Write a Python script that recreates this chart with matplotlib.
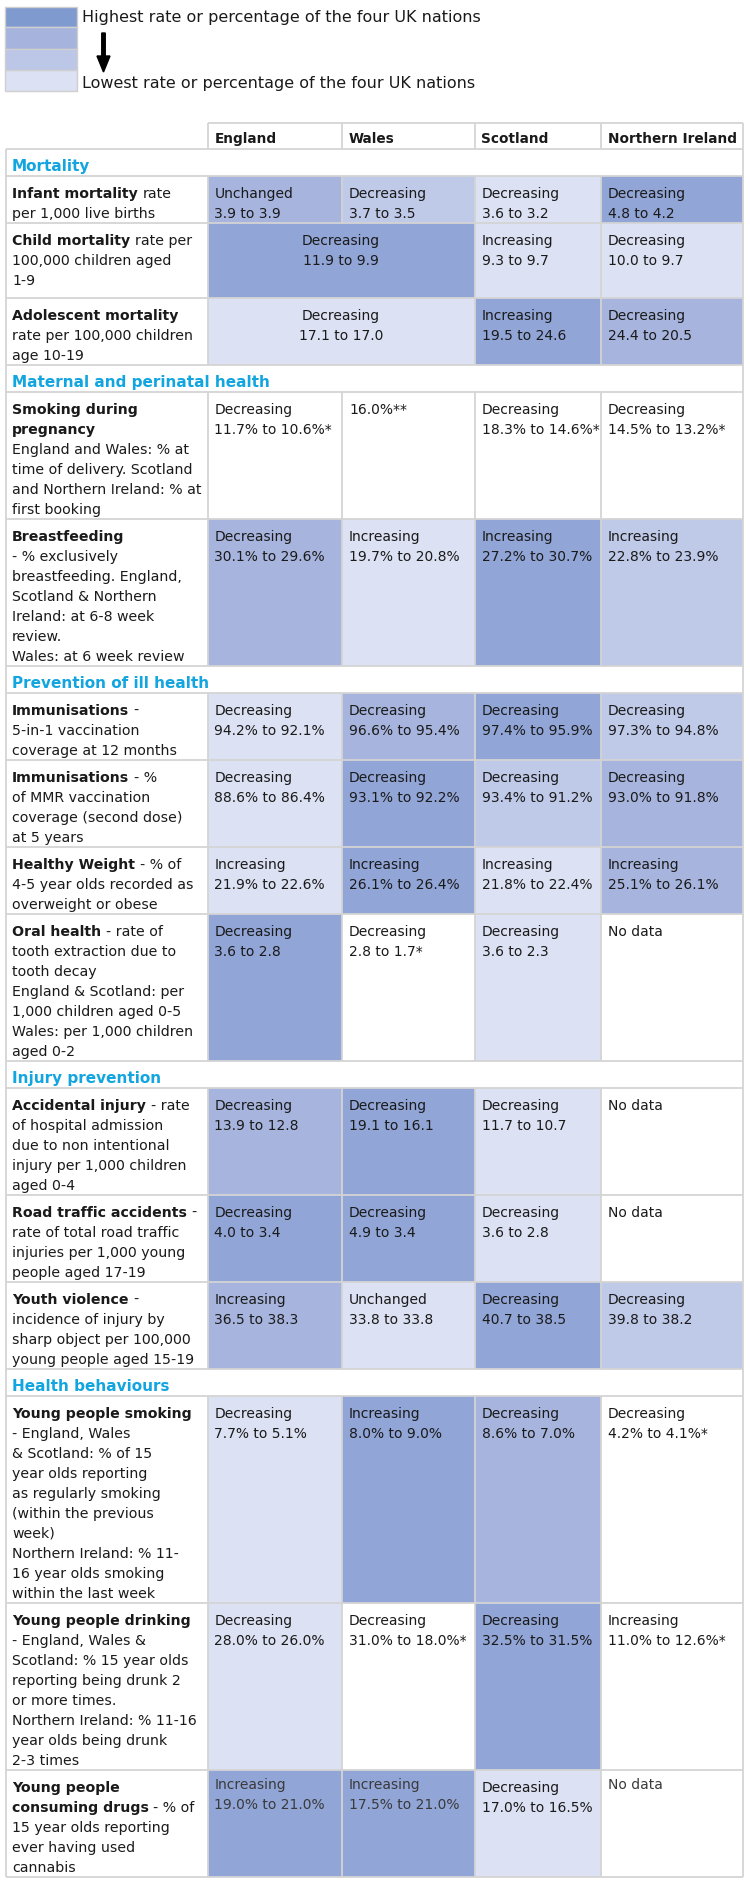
import matplotlib
matplotlib.use("Agg")
import matplotlib.pyplot as plt
from matplotlib.patches import Rectangle

# ---- data ----
nations = ["England", "Wales", "Scotland", "Northern Ireland"]

section_names = ["Mortality", "Maternal and perinatal health", "Prevention of ill health",
                 "Injury prevention", "Health behaviours"]
section_sizes = [3, 2, 4, 3, 3]

row_labels = [
    ["**Infant mortality** rate", "per 1,000 live births"],
    ["**Child mortality** rate per", "100,000 children aged", "1-9"],
    ["**Adolescent mortality**", "rate per 100,000 children", "age 10-19"],
    ["**Smoking during**", "**pregnancy**", "England and Wales: % at", "time of delivery. Scotland",
     "and Northern Ireland: % at", "first booking"],
    ["**Breastfeeding**", "- % exclusively", "breastfeeding. England,", "Scotland & Northern",
     "Ireland: at 6-8 week", "review.", "Wales: at 6 week review"],
    ["**Immunisations** -", "5-in-1 vaccination", "coverage at 12 months"],
    ["**Immunisations** - %", "of MMR vaccination", "coverage (second dose)", "at 5 years"],
    ["**Healthy Weight** - % of", "4-5 year olds recorded as", "overweight or obese"],
    ["**Oral health** - rate of", "tooth extraction due to", "tooth decay", "England & Scotland: per",
     "1,000 children aged 0-5", "Wales: per 1,000 children", "aged 0-2"],
    ["**Accidental injury** - rate", "of hospital admission", "due to non intentional",
     "injury per 1,000 children", "aged 0-4"],
    ["**Road traffic accidents** -", "rate of total road traffic", "injuries per 1,000 young",
     "people aged 17-19"],
    ["**Youth violence** -", "incidence of injury by", "sharp object per 100,000",
     "young people aged 15-19"],
    ["**Young people smoking**", "- England, Wales", "& Scotland: % of 15", "year olds reporting",
     "as regularly smoking", "(within the previous", "week)", "Northern Ireland: % 11-",
     "16 year olds smoking", "within the last week"],
    ["**Young people drinking**", "- England, Wales &", "Scotland: % 15 year olds",
     "reporting being drunk 2", "or more times.", "Northern Ireland: % 11-16",
     "year olds being drunk", "2-3 times"],
    ["**Young people**", "**consuming drugs** - % of", "15 year olds reporting",
     "ever having used", "cannabis"],
]

# None = merged into the cell on its left
trend = [
    ["Unchanged", "Decreasing", "Decreasing", "Decreasing"],
    ["Decreasing", None, "Increasing", "Decreasing"],
    ["Decreasing", None, "Increasing", "Decreasing"],
    ["Decreasing", "", "Decreasing", "Decreasing"],
    ["Decreasing", "Increasing", "Increasing", "Increasing"],
    ["Decreasing", "Decreasing", "Decreasing", "Decreasing"],
    ["Decreasing", "Decreasing", "Decreasing", "Decreasing"],
    ["Increasing", "Increasing", "Increasing", "Increasing"],
    ["Decreasing", "Decreasing", "Decreasing", "No data"],
    ["Decreasing", "Decreasing", "Decreasing", "No data"],
    ["Decreasing", "Decreasing", "Decreasing", "No data"],
    ["Increasing", "Unchanged", "Decreasing", "Decreasing"],
    ["Decreasing", "Increasing", "Decreasing", "Decreasing"],
    ["Decreasing", "Decreasing", "Decreasing", "Increasing"],
    ["Increasing", "Increasing", "Decreasing", "No data"],
]
change = [
    ["3.9 to 3.9", "3.7 to 3.5", "3.6 to 3.2", "4.8 to 4.2"],
    ["11.9 to 9.9", None, "9.3 to 9.7", "10.0 to 9.7"],
    ["17.1 to 17.0", None, "19.5 to 24.6", "24.4 to 20.5"],
    ["11.7% to 10.6%*", "16.0%**", "18.3% to 14.6%*", "14.5% to 13.2%*"],
    ["30.1% to 29.6%", "19.7% to 20.8%", "27.2% to 30.7%", "22.8% to 23.9%"],
    ["94.2% to 92.1%", "96.6% to 95.4%", "97.4% to 95.9%", "97.3% to 94.8%"],
    ["88.6% to 86.4%", "93.1% to 92.2%", "93.4% to 91.2%", "93.0% to 91.8%"],
    ["21.9% to 22.6%", "26.1% to 26.4%", "21.8% to 22.4%", "25.1% to 26.1%"],
    ["3.6 to 2.8", "2.8 to 1.7*", "3.6 to 2.3", ""],
    ["13.9 to 12.8", "19.1 to 16.1", "11.7 to 10.7", ""],
    ["4.0 to 3.4", "4.9 to 3.4", "3.6 to 2.8", ""],
    ["36.5 to 38.3", "33.8 to 33.8", "40.7 to 38.5", "39.8 to 38.2"],
    ["7.7% to 5.1%", "8.0% to 9.0%", "8.6% to 7.0%", "4.2% to 4.1%*"],
    ["28.0% to 26.0%", "31.0% to 18.0%*", "32.5% to 31.5%", "11.0% to 12.6%*"],
    ["19.0% to 21.0%", "17.5% to 21.0%", "17.0% to 16.5%", ""],
]
# rank shade: 1 = highest of the four nations ... 4 = lowest, 0 = not ranked
rank = [
    [2, 3, 4, 1],
    [1, 1, 4, 4],
    [4, 4, 1, 2],
    [0, 0, 0, 0],
    [2, 4, 1, 3],
    [4, 2, 1, 3],
    [4, 1, 3, 2],
    [4, 1, 4, 2],
    [1, 0, 4, 0],
    [2, 1, 4, 0],
    [1, 1, 4, 0],
    [2, 4, 1, 3],
    [4, 1, 2, 0],
    [4, 0, 1, 0],
    [1, 1, 4, 0],
]
legend_top = "Highest rate or percentage of the four UK nations"
legend_bottom = "Lowest rate or percentage of the four UK nations"

# ---- style ----
shade = {0: "white", 1: "#91a5d7", 2: "#a7b5de", 3: "#bfc9e8", 4: "#dce1f3"}
legend_shades = ["#7f9acf", "#a5b3dd", "#bcc6e7", "#dce1f3"]
grid_c = "#d4d4d4"
text_c = "#1a1a1a"
section_c = "#12a5e0"
col_edges = [5.5, 207.5, 342, 474.5, 601, 743]
line_h = 20
row_pad = 7
section_h = 27
extra_pad = {1: 8}
light_cells = {(14, 0), (14, 1), (14, 3)}

fig = plt.figure(figsize=(7.5, 19), dpi=100)
ax = fig.add_axes([0, 0, 1, 1])
ax.set_xlim(0, 750)
ax.set_ylim(1900, 0)
ax.axis("off")
renderer = fig.canvas.get_renderer()


def put_line(x, y, line, size, color=text_c):
    # draws one label line, with **bold** runs, left to right
    space = 0.318 * size * 100 / 72
    parts = line.split("**")
    for i, part in enumerate(parts):
        if not part.strip():
            if part:
                x += space
            continue
        if part.startswith(" "):
            x += space
        t = ax.text(x, y, part.strip(), fontsize=size, color=color, va="baseline", ha="left",
                    fontweight="bold" if i % 2 else "normal", zorder=4)
        x += t.get_window_extent(renderer).width
        if part.endswith(" "):
            x += space


def hline(y, x0, x1):
    ax.plot([x0, x1], [y, y], color=grid_c, lw=1.3, zorder=3, solid_capstyle="butt")


def vline(x, y0, y1):
    ax.plot([x, x], [y0, y1], color=grid_c, lw=1.3, zorder=3, solid_capstyle="butt")


# legend
lg_edges = [6.7, 27.3, 48.7, 70, 90.7]
for i, c in enumerate(legend_shades):
    ax.add_patch(Rectangle((5, lg_edges[i]), 72, lg_edges[i + 1] - lg_edges[i],
                           facecolor=c, edgecolor="#cfcfcf", lw=1))
ax.text(82, 21.7, legend_top, fontsize=11.5, color=text_c, va="baseline")
ax.text(82, 88.3, legend_bottom, fontsize=11.5, color=text_c, va="baseline")
ax.arrow(103.5, 33, 0, 39, width=3.5, head_width=13, head_length=16,
         length_includes_head=True, color="black")

# header
h_top, h_bot = 122.7, 149.3
hline(h_top, col_edges[1], col_edges[-1])
for x in col_edges[1:]:
    vline(x, h_top, h_bot)
for c, name in enumerate(nations):
    ax.text(col_edges[c + 1] + 7, 143.3, name, fontsize=9.8, fontweight="bold",
            color=text_c, va="baseline")

# body
y = h_bot
r = 0
for s, name in enumerate(section_names):
    hline(y, col_edges[0], col_edges[-1])
    vline(col_edges[0], y, y + section_h)
    vline(col_edges[-1], y, y + section_h)
    ax.text(12, y + 21.5, name, fontsize=11, fontweight="bold", color=section_c, va="baseline")
    y += section_h
    for _ in range(section_sizes[s]):
        n = max(len(row_labels[r]), 2)
        h = line_h * n + row_pad + extra_pad.get(r, 0)
        hline(y, col_edges[0], col_edges[-1])
        vline(col_edges[0], y, y + h)
        vline(col_edges[1], y, y + h)
        for i, line in enumerate(row_labels[r]):
            put_line(12, y + 21.5 + i * line_h, line, 10.2)
        c = 0
        while c < 4:
            span = 1
            while c + span < 4 and trend[r][c + span] is None:
                span += 1
            x0, x1 = col_edges[c + 1], col_edges[c + 1 + span]
            ax.add_patch(Rectangle((x0, y), x1 - x0, h, facecolor=shade[rank[r][c]],
                                   edgecolor="none", zorder=1))
            vline(x1, y, y + h)
            lines = [t for t in (trend[r][c], change[r][c]) if t]
            light = (r, c) in light_cells
            for i, t in enumerate(lines):
                ty = y + 21.5 + i * line_h - (2.5 if light else 0)
                if span > 1:
                    ax.text((x0 + x1) / 2, ty, t, fontsize=10, color=text_c, ha="center",
                            va="baseline", zorder=4)
                else:
                    ax.text(x0 + 7, ty, t, fontsize=10, va="baseline", zorder=4,
                            color="#3a3a3a" if light else text_c)
            c += span
        y += h
        r += 1
hline(y, col_edges[0], col_edges[-1])

fig.savefig("out.png", dpi=100)
